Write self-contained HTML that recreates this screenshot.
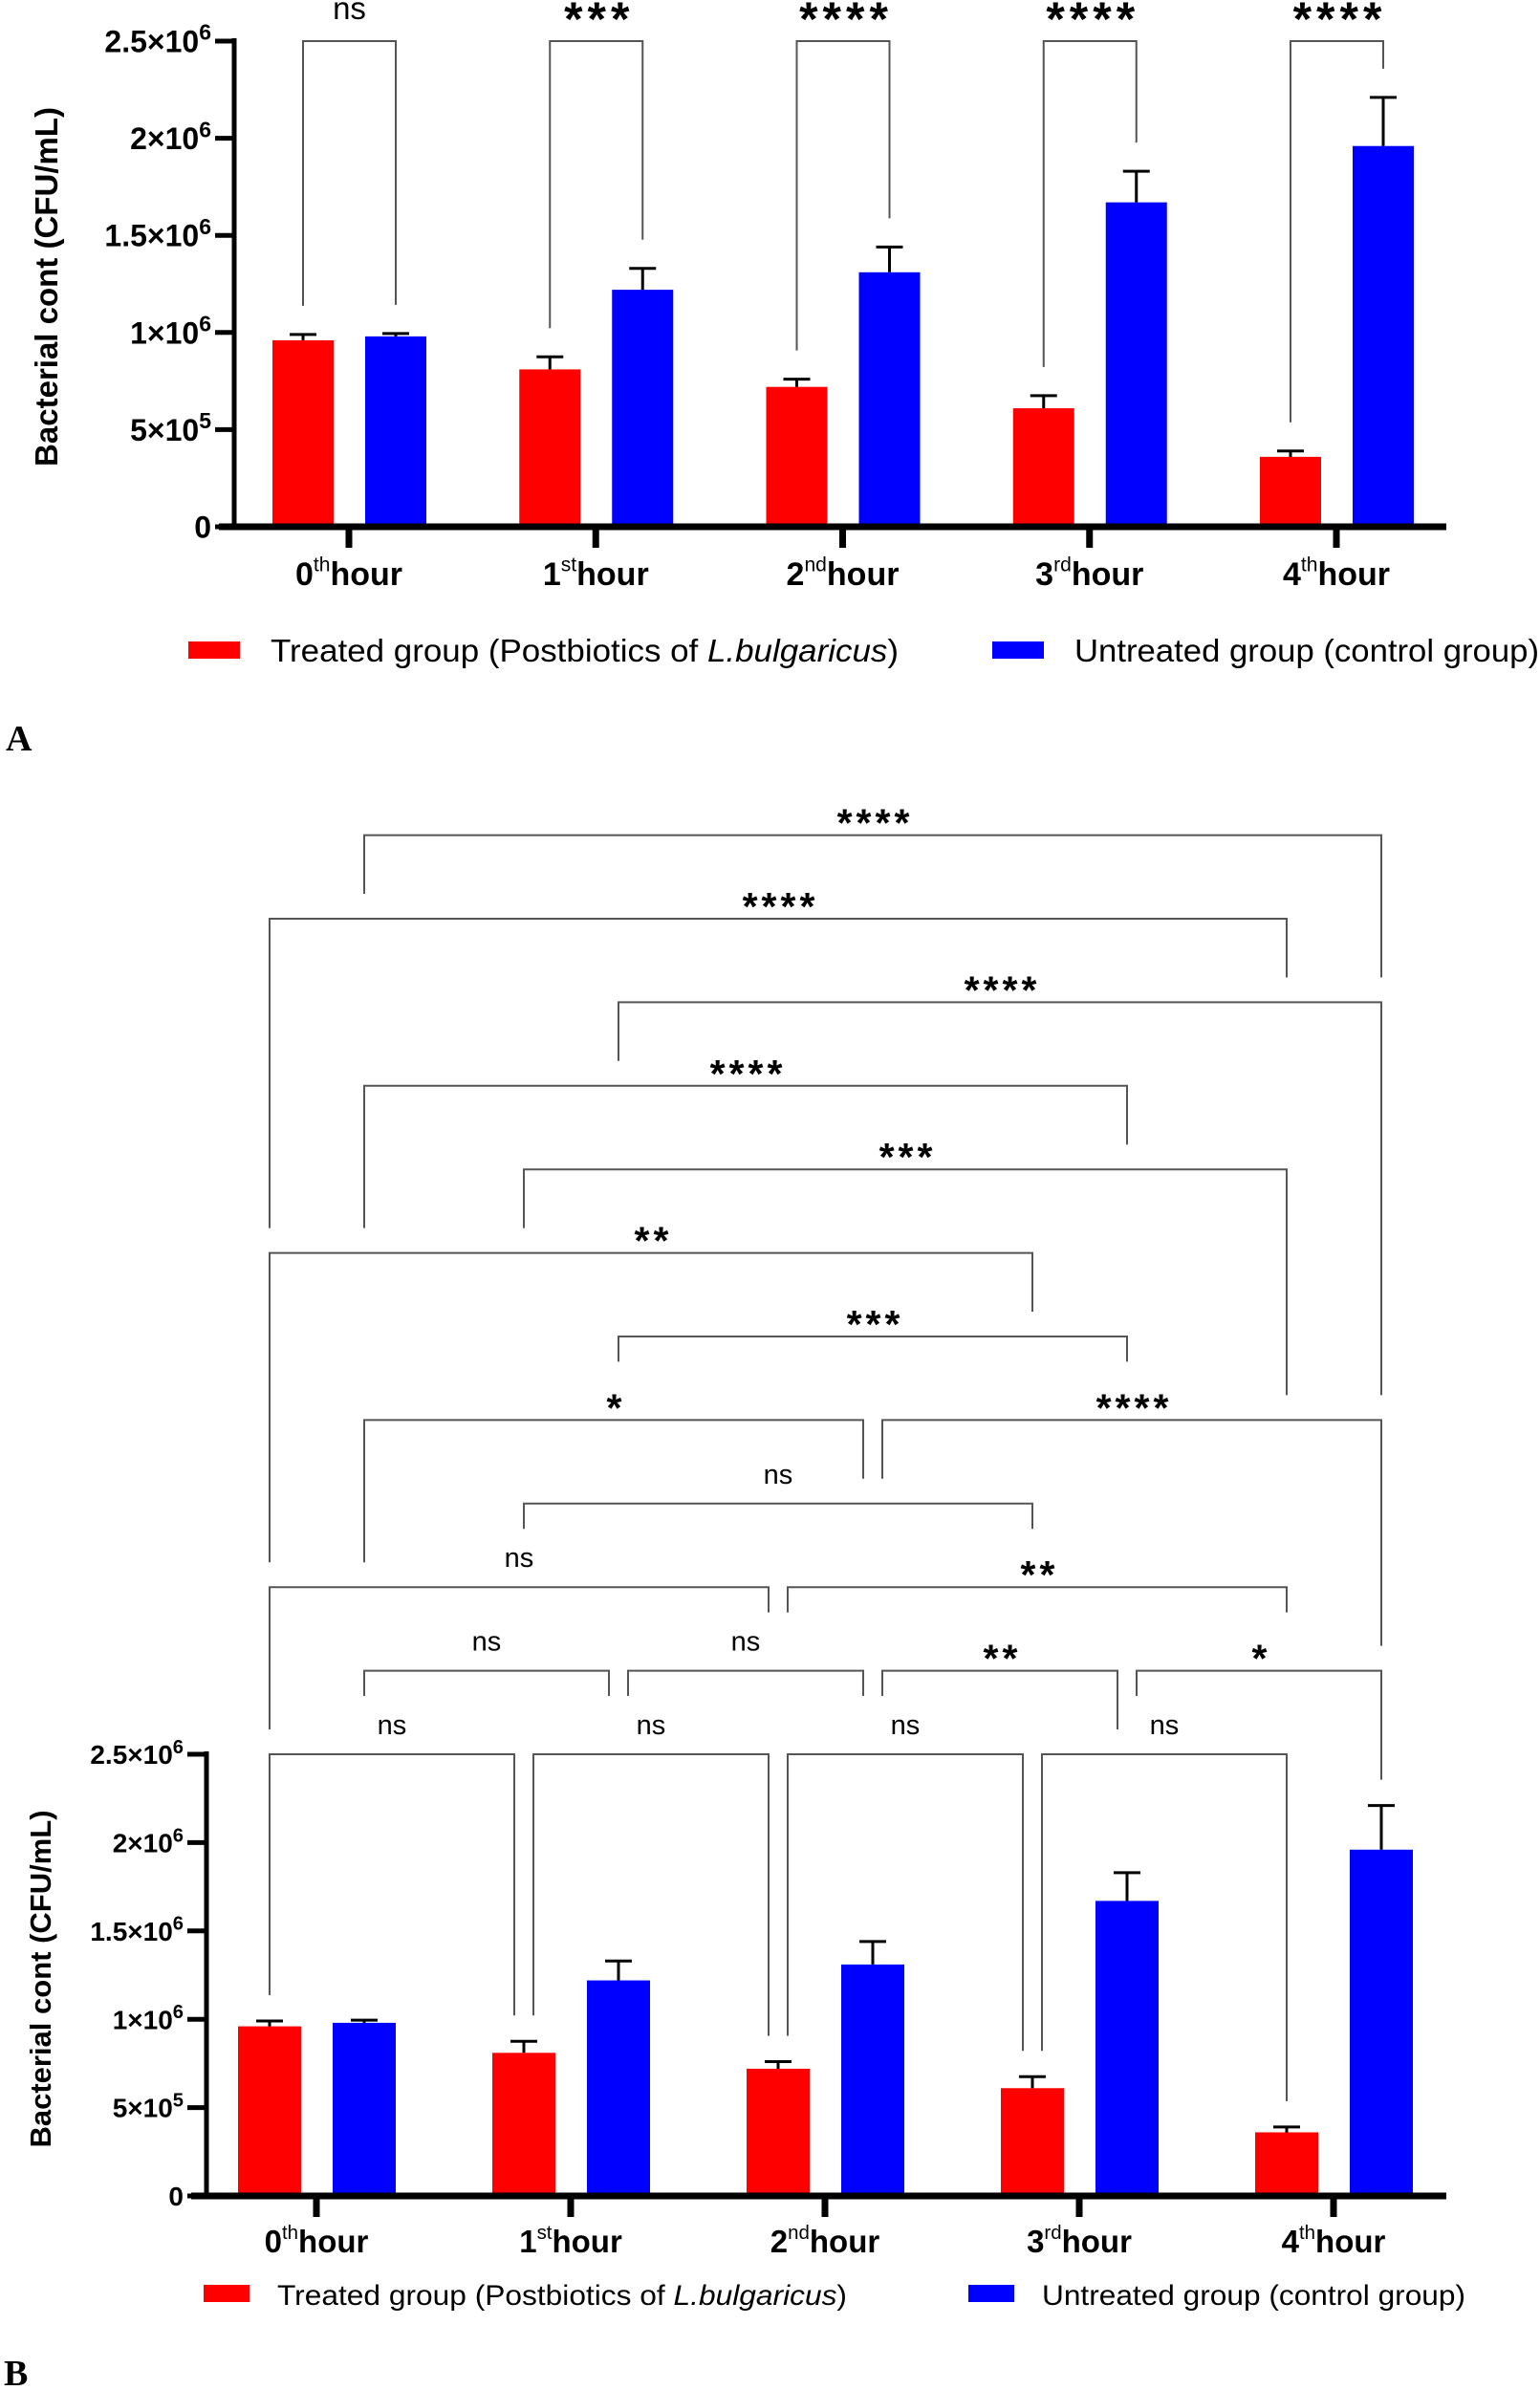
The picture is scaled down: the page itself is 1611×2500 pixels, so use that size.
<!DOCTYPE html>
<html><head><meta charset="utf-8"><style>
html,body{margin:0;padding:0;background:#fff;}
svg{display:block;font-family:"Liberation Sans",Arial,sans-serif;}
</style></head><body>
<svg id="fig" xmlns="http://www.w3.org/2000/svg" width="1611" height="2500" viewBox="0 0 1611 2500"></svg>
<script>
const categories = ['0','1','2','3','4'];
const ordinals = ['th','st','nd','rd','th'];
const treated = [960000, 810000, 720000, 610000, 360000];
const treatedErr = [30000, 65000, 40000, 65000, 30000];
const untreated = [980000, 1220000, 1310000, 1670000, 1960000];
const untreatedErr = [15000, 110000, 130000, 160000, 250000];
const yTicks = [0, 500000, 1000000, 1500000, 2000000, 2500000];
const yTickMant = ['0','5×10','1×10','1.5×10','2×10','2.5×10'];
const yTickExp = ['','5','6','6','6','6'];
const sigA = ['ns','***','****','****','****'];
// panel B comparisons: bar index (red i = 2i, blue i = 2i+1), row, label
const compFrom = [0,2,4,6, 1,3,5,7, 0,4, 2, 1,5, 3, 0, 2, 1, 3, 0, 1];
const compTo   = [2,4,6,8, 3,5,7,9, 4,8, 6, 5,9, 7, 6, 8, 7, 9, 8, 9];
const compRow  = [0,0,0,0, 1,1,1,1, 2,2, 3, 4,4, 5, 6, 7, 8, 9, 10,11];
const compLab  = ['ns','ns','ns','ns','ns','ns','**','*','ns','**','ns','*','****','***','**','***','****','****','****','****'];

const NS='http://www.w3.org/2000/svg';
const svg=document.getElementById('fig');
function mk(tag,attrs,parent){const e=document.createElementNS(NS,tag);for(const k in attrs)e.setAttribute(k,attrs[k]);(parent||svg).appendChild(e);return e;}

function panel(cfg){
  const g=mk('g',{});
  
  
  const y=v=>cfg.y0-(v/2500000)*(cfg.y0-cfg.yTop);
  const tick=i=>cfg.x0+cfg.step*i;
  const cx=j=>{const i=Math.floor(j/2);return j%2===0?tick(i)-cfg.off:tick(i)+cfg.off+1;};
  const vals=j=>j%2===0?treated[j>>1]:untreated[j>>1];
  const errs=j=>j%2===0?treatedErr[j>>1]:untreatedErr[j>>1];
  for(let j=0;j<10;j++){
    const v=vals(j),e=errs(j),c=cx(j);
    const b=mk('rect',{x:c-cfg.bw/2,y:y(v),width:cfg.bw,height:cfg.y0-y(v),fill:j%2===0?'#ff0000':'#0000ff'},g);
    
    
    const eb=mk('path',{d:`M${c} ${y(v)}V${y(v+e)}M${c-14} ${y(v+e)}H${c+14}`,stroke:'#000','stroke-width':3,fill:'none'},g);
    
    
  }
  const ya=mk('line',{x1:cfg.ax,y1:cfg.yTop-3,x2:cfg.ax,y2:cfg.y0+3,stroke:'#000','stroke-width':5},g);
  
  
  const xa=mk('line',{x1:cfg.ax-16,y1:cfg.y0,x2:1513,y2:cfg.y0,stroke:'#000','stroke-width':7},g);
  
  
  yTicks.forEach((t,k)=>{
    mk('line',{x1:cfg.ax-20,y1:y(t),x2:cfg.ax,y2:y(t),stroke:'#000','stroke-width':5},g);
    const tx=mk('text',{x:cfg.ax-24,y:y(t)+cfg.tf*0.36,'text-anchor':'end','font-weight':'bold','font-size':cfg.tf},g);
    
    
    const a=mk('tspan',{},tx);a.textContent=yTickMant[k];
    if(yTickExp[k]){const s=mk('tspan',{dy:-cfg.tf*0.4,'font-size':cfg.tf*0.72},tx);s.textContent=yTickExp[k];}
  });
  const yt=mk('text',{x:cfg.ytx,y:cfg.yty,'text-anchor':'middle','font-weight':'bold','font-size':cfg.ytf,transform:`rotate(-90 ${cfg.ytx} ${cfg.yty})`},g);
  
  
  yt.textContent='Bacterial cont (CFU/mL)';
  categories.forEach((c,i)=>{
    mk('line',{x1:tick(i),y1:cfg.y0,x2:tick(i),y2:cfg.y0+22,stroke:'#000','stroke-width':7},g);
    const tx=mk('text',{x:tick(i),y:cfg.xly,'text-anchor':'middle','font-weight':'bold','font-size':cfg.xf},g);
    
    
    const a=mk('tspan',{},tx);a.textContent=c;
    const s=mk('tspan',{dy:-cfg.xf*0.42,'font-size':cfg.xf*0.62,'font-weight':'normal'},tx);s.textContent=ordinals[i];
    const h=mk('tspan',{dy:cfg.xf*0.42},tx);h.textContent='hour';
  });
  const L=cfg.leg;
  const s1=mk('rect',{x:L.rx,y:L.y-9,width:L.sw,height:18,fill:'#ff0000'},g);
  
  
  const t1=mk('text',{x:L.rtx,y:L.y+12,'font-size':L.f,textLength:L.rtl,lengthAdjust:'spacingAndGlyphs'},g);
  
  
  mk('tspan',{},t1).textContent='Treated group (Postbiotics of ';
  mk('tspan',{'font-style':'italic'},t1).textContent='L.bulgaricus';
  mk('tspan',{},t1).textContent=')';
  const s2=mk('rect',{x:L.bx,y:L.y-9,width:L.sw,height:18,fill:'#0000ff'},g);
  
  
  const t2=mk('text',{x:L.btx,y:L.y+12,'font-size':L.f,textLength:L.btl,lengthAdjust:'spacingAndGlyphs'},g);
  
  
  t2.textContent='Untreated group (control group)';
  return {g,y,cx,vals,errs};
}

// Panel A
const A=panel({name:'panel-a-chart',y0:551,yTop:43,ax:245,x0:365,step:258.25,off:48,bw:64,tf:32,ytx:60,yty:300,ytf:33,xly:612,xf:34,
  leg:{y:680,rx:197,sw:54,rtx:283,rtl:657,bx:1038,btx:1124,btl:486,f:33}});
sigA.forEach((lab,i)=>{
  const r=2*i,b=2*i+1,x1=A.cx(r),x2=A.cx(b),top=43;
  const bt1=A.y(A.vals(r)+A.errs(r))-30,bt2=A.y(A.vals(b)+A.errs(b))-30;
  const p=mk('path',{d:`M${x1} ${bt1}V${top}H${x2}V${bt2}`,stroke:'#555','stroke-width':2,fill:'none'},A.g);
  
  
  const isNs=lab==='ns';
  const t=mk('text',{x:(x1+x2)/2+(isNs?0:3),y:isNs?20:37,'text-anchor':'middle','font-size':isNs?33:50,'font-weight':isNs?'normal':'bold','letter-spacing':isNs?0:5},A.g);
  
  
  t.textContent=lab;
});
const la=mk('text',{x:6,y:785,'font-family':'Liberation Serif, serif','font-weight':'bold','font-size':38});


la.textContent='A';

// Panel B
const B=panel({name:'panel-b-chart',y0:2297,yTop:1835,ax:216,x0:331,step:266,off:49,bw:66,tf:28,ytx:53,yty:2070,ytf:31,xly:2356,xf:33,
  leg:{y:2399,rx:213,sw:48,rtx:290,rtl:596,bx:1013,btx:1090,btl:443,f:30}});
const rowY=k=>1835-87.4*k;
const ends=compFrom.map((f,n)=>{
  const t=compTo[n],k=compRow[n];
  let x1=B.cx(f),x2=B.cx(t);
  for(let m=0;m<compFrom.length;m++){ if(m===n||compRow[m]!==k)continue;
    if(compTo[m]===f)x1+=10; if(compFrom[m]===t)x2-=10; }
  return [x1,x2];
});
function legBottom(n,x,bar){
  const k=compRow[n];let best=-1,bm=-1;
  for(let m=0;m<compFrom.length;m++){
    if(compRow[m]<k && x>=ends[m][0]-2 && x<=ends[m][1]+2 && compRow[m]>best){best=compRow[m];bm=m;}
  }
  if(bm<0) return B.y(B.vals(bar)+B.errs(bar))-27;
  const lc=(ends[bm][0]+ends[bm][1])/2;
  return rowY(best)-(Math.abs(x-lc)<45?61:26);
}
compFrom.forEach((f,n)=>{
  const [x1,x2]=ends[n],yy=rowY(compRow[n]);
  const b1=legBottom(n,x1,f),b2=legBottom(n,x2,compTo[n]);
  const p=mk('path',{d:`M${x1} ${b1}V${yy}H${x2}V${b2}`,stroke:'#555','stroke-width':2,fill:'none'},B.g);
  
  
  const lab=compLab[n];
  const isNs=lab==='ns';
  const t=mk('text',{x:(x1+x2)/2+(isNs?0:2.5),y:isNs?yy-21:yy+1,'text-anchor':'middle','font-size':isNs?29:41,'font-weight':isNs?'normal':'bold','letter-spacing':isNs?0:4},B.g);
  
  
  t.textContent=lab;
});
const lb=mk('text',{x:4,y:2495,'font-family':'Liberation Serif, serif','font-weight':'bold','font-size':38});


lb.textContent='B';
</script>
</body></html>
